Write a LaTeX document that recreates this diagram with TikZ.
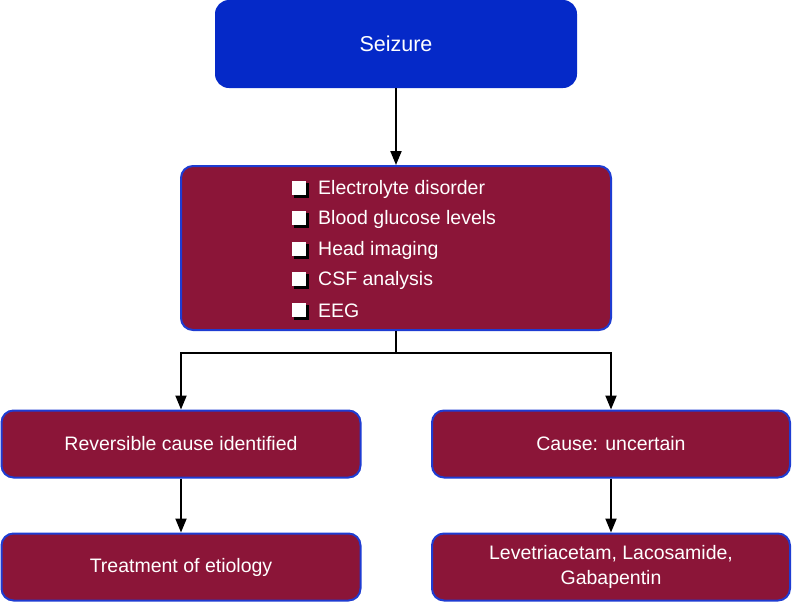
\documentclass[tikz,border=0pt]{standalone}
\usepackage{fontspec}
\setsansfont{Liberation Sans}
\usetikzlibrary{arrows.meta}
\definecolor{seizblue}{HTML}{0529C8}
\definecolor{boxred}{HTML}{8B1538}
\definecolor{edgeblue}{HTML}{1E3CD2}
\tikzset{
  topbox/.style={fill=seizblue, rounded corners=14pt, minimum width=362pt, minimum height=88pt},
  redbox/.style={fill=boxred, draw=edgeblue, line width=2pt, rounded corners=12pt},
  txt/.style={text=white, font=\sffamily\fontsize{19.5}{25}\selectfont, align=center},
  item/.style={text=white, font=\sffamily\fontsize{19.5}{24}\selectfont, anchor=west, inner sep=0pt},
  arr/.style={-{Triangle[length=14pt,width=11pt]}, line width=2pt},
  link/.style={line width=2pt}
}
\begin{document}
\begin{tikzpicture}[x=1pt,y=-1pt]
            \useasboundingbox (0,0) rectangle (792,603);

            \node[topbox, txt, font=\sffamily\fontsize{21.5}{26}\selectfont] (seizure) at (396,44) {Seizure};

            \node[redbox, minimum width=430pt, minimum height=164pt] (checks) at (396,248) {};
            \foreach \y in {188, 218, 249, 279, 310} {
                \fill[black] (294,\y-5) rectangle (309,\y+10);
                \fill[white] (292,\y-7) rectangle (306,\y+7);
            }
            \node[item] (electro) at (318,189) {Electrolyte disorder};
            \node[item] (glucose) at (318,219) {Blood glucose levels};
            \node[item] (imaging) at (318,250) {Head imaging};
            \node[item] (csf) at (318,280) {CSF analysis};
            \node[item] (eeg) at (318,311) {EEG};

            \node[redbox, txt, minimum width=359pt, minimum height=67pt] (reversible) at (181,444) {Reversible cause identified};
            \node[redbox, txt, minimum width=358pt, minimum height=67pt] (uncertain) at (611,444) {Cause: uncertain};

            \node[redbox, txt, minimum width=359pt, minimum height=67pt] (treatment) at (181,567) {Treatment of etiology};
            \node[redbox, txt, minimum width=358pt, minimum height=67pt] (drugs) at (611,567) {Levetriacetam, Lacosamide,\\Gabapentin};

            \coordinate (split) at (396,353);

            \draw[arr] (seizure) -- (checks);
            \draw[link] (checks) -- (split);
            \draw[arr] (split) -| (reversible);
            \draw[arr] (split) -| (uncertain);
            \draw[arr] (reversible) -- (treatment);
            \draw[arr] (uncertain) -- (drugs);
\end{tikzpicture}
\end{document}
